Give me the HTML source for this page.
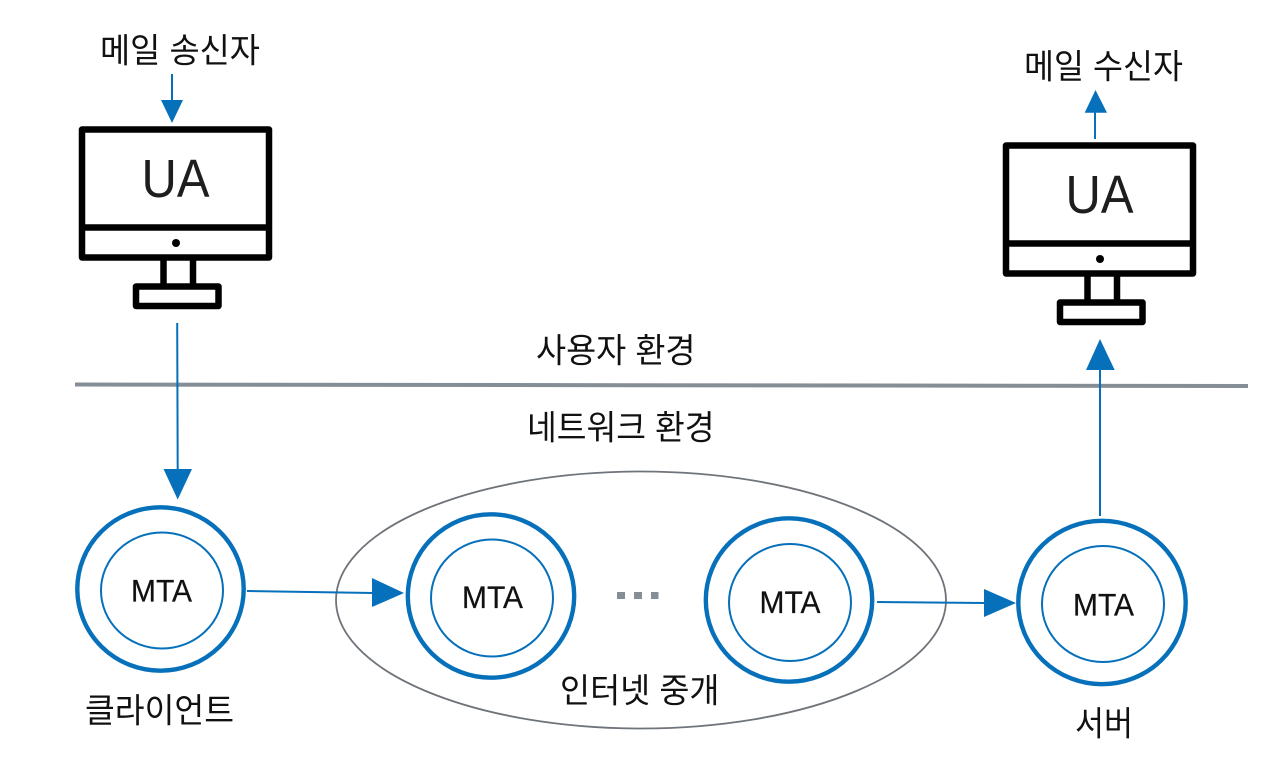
<!DOCTYPE html>
<html lang="ko">
<head>
<meta charset="utf-8">
<title>메일 전송 구조</title>
<style>
html,body{margin:0;padding:0;background:#fff;}
svg{display:block;}
.k{font-family:"Liberation Sans","Noto Sans CJK KR",sans-serif;font-size:34px;fill:#111;}
.m{font-family:"Liberation Sans",sans-serif;font-size:31.5px;fill:#111;stroke:#111;stroke-width:.25;}
.u{font-family:"Liberation Sans",sans-serif;font-size:54px;fill:#1e1e1e;}
</style>
</head>
<body>
<svg width="1280" height="775" viewBox="0 0 1280 775" xmlns="http://www.w3.org/2000/svg">
<rect width="1280" height="775" fill="#fff"/>

<!-- divider -->
<line x1="75" y1="384.5" x2="1248" y2="386" stroke="#858d95" stroke-width="4"/>

<!-- relay ellipse -->
<ellipse cx="641" cy="600" rx="305" ry="128.5" fill="none" stroke="#6f747a" stroke-width="1.8"/>

<!-- monitors -->
<g fill="none" stroke="#000" stroke-width="6.5" stroke-linejoin="round">
  <rect x="82" y="129.5" width="187" height="128"/>
  <line x1="82" y1="227.5" x2="269" y2="227.5"/>
  <line x1="163.5" y1="258" x2="163.5" y2="286"/>
  <line x1="193" y1="258" x2="193" y2="286"/>
  <rect x="136" y="286.5" width="82.5" height="19.5"/>
  <rect x="1006" y="145.5" width="187" height="128"/>
  <line x1="1006" y1="243.5" x2="1193" y2="243.5"/>
  <line x1="1087.5" y1="274" x2="1087.5" y2="302"/>
  <line x1="1117" y1="274" x2="1117" y2="302"/>
  <rect x="1060" y="302.5" width="82.5" height="19.5"/>
</g>
<circle cx="176" cy="243" r="4" fill="#000"/>
<circle cx="1100" cy="259" r="4" fill="#000"/>
<text class="u" x="141.5" y="197" textLength="68" lengthAdjust="spacingAndGlyphs">UA</text>
<text class="u" x="1065.5" y="213" textLength="68" lengthAdjust="spacingAndGlyphs">UA</text>

<!-- MTA circles -->
<g fill="none" stroke="#0670bb">
  <ellipse cx="160.5" cy="589" rx="83.2" ry="81.7" stroke-width="4.4"/>
  <ellipse cx="162" cy="590.5" rx="61" ry="58" stroke-width="2"/>
  <ellipse cx="491" cy="596" rx="83.2" ry="81.7" stroke-width="4.4"/>
  <ellipse cx="492" cy="598" rx="61" ry="58.5" stroke-width="2"/>
  <ellipse cx="789" cy="600" rx="83.2" ry="81.7" stroke-width="4.4"/>
  <ellipse cx="790" cy="602.5" rx="61" ry="58.5" stroke-width="2"/>
  <ellipse cx="1102" cy="602.5" rx="83.7" ry="81.7" stroke-width="4.4"/>
  <ellipse cx="1103" cy="604" rx="61" ry="58" stroke-width="2"/>
</g>
<text class="m" x="131" y="601.5" textLength="61" lengthAdjust="spacingAndGlyphs">MTA</text>
<text class="m" x="462" y="608" textLength="61" lengthAdjust="spacingAndGlyphs">MTA</text>
<text class="m" x="759.5" y="613" textLength="61" lengthAdjust="spacingAndGlyphs">MTA</text>
<text class="m" x="1073" y="615.5" textLength="61" lengthAdjust="spacingAndGlyphs">MTA</text>

<!-- ellipsis -->
<g fill="#858d95">
  <rect x="617" y="592" width="8" height="7"/>
  <rect x="634" y="592" width="8" height="7"/>
  <rect x="651" y="592" width="7.5" height="7"/>
</g>

<!-- connectors -->
<g stroke="#0670bb" stroke-width="2" fill="none">
  <line x1="172" y1="74" x2="172" y2="101"/>
  <line x1="177.2" y1="323" x2="177.7" y2="470"/>
  <line x1="247" y1="591" x2="373" y2="593"/>
  <line x1="877" y1="602" x2="985" y2="603"/>
  <line x1="1100" y1="516" x2="1100" y2="369"/>
  <line x1="1095" y1="139" x2="1095" y2="112"/>
</g>
<g fill="#0670bb">
  <polygon points="161,100 183,100 172,123"/>
  <polygon points="163.5,469 192,469 177.7,499.5"/>
  <polygon points="372,578 404,593 372,607"/>
  <polygon points="984,589 1016,603 984,617"/>
  <polygon points="1086,370 1114.7,370 1100,339"/>
  <polygon points="1084.7,112.7 1107,112.7 1095.5,90"/>
</g>

<!-- labels -->
<text class="k" x="100" y="62.5" textLength="160" lengthAdjust="spacingAndGlyphs">메일 송신자</text>
<text class="k" x="1024" y="78.5" textLength="159" lengthAdjust="spacingAndGlyphs">메일 수신자</text>
<text class="k" x="536" y="362.5" textLength="159.5" lengthAdjust="spacingAndGlyphs">사용자 환경</text>
<text class="k" x="527" y="439.5" textLength="187.5" lengthAdjust="spacingAndGlyphs">네트워크 환경</text>
<text class="k" x="85" y="722.5" textLength="149" lengthAdjust="spacingAndGlyphs">클라이언트</text>
<text class="k" x="560" y="702.5" textLength="159.5" lengthAdjust="spacingAndGlyphs">인터넷 중개</text>
<text class="k" x="1075" y="735.5" textLength="58" lengthAdjust="spacingAndGlyphs">서버</text>
</svg>
</body>
</html>
